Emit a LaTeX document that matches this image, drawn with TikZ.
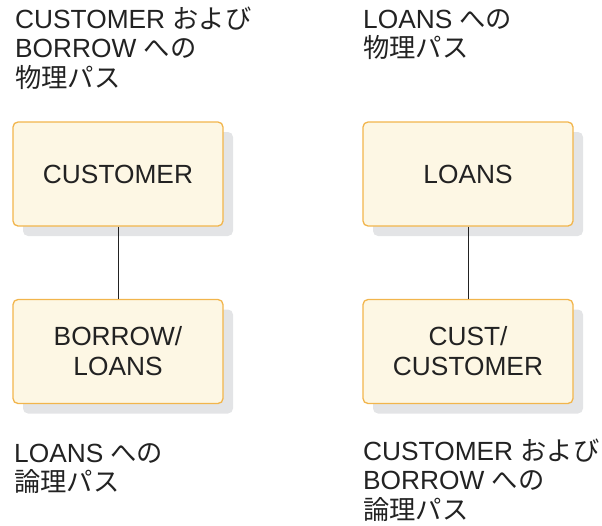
\documentclass[tikz,border=0pt]{standalone}
\usepackage{fontspec}
\setmainfont{Liberation Sans}
\newfontfamily\jp{Noto Sans CJK JP}
\usetikzlibrary{shadows}
\definecolor{boxfill}{HTML}{FDF7E4}
\definecolor{boxline}{HTML}{F2B54C}
\definecolor{shadowgray}{HTML}{E3E4E6}
\definecolor{txt}{HTML}{222222}
\tikzset{
  ent/.style={draw=boxline, fill=boxfill, line width=1.3pt, rounded corners=5pt,
    minimum width=210pt, minimum height=104pt, align=center, inner sep=0pt,
    font=\fontsize{26.3}{30}\selectfont, text=txt,
    drop shadow={shadow xshift=10pt, shadow yshift=-10pt, fill=shadowgray, opacity=1}},
  lbl/.style={anchor=base west, align=left, inner sep=0pt,
    font=\fontsize{26.3}{29.5}\selectfont, text=txt},
  link/.style={draw=txt, line width=1pt}
}
\begin{document}
\begin{tikzpicture}[x=1pt,y=-1pt]
\useasboundingbox (0,0) rectangle (602,525);
\node[ent] (cust) at (118,174) {CUSTOMER};
\node[ent] (borrow) at (118,351.5) {BORROW/\\LOANS};
\node[ent] (loans) at (468,174) {LOANS};
\node[ent] (custc) at (468,351.5) {CUST/\\CUSTOMER};
\draw[link] (cust) -- (borrow);
\draw[link] (loans) -- (custc);
\node[lbl] (t1) at (15,87) {CUSTOMER {\jp および}\\BORROW {\jp への}\\{\jp 物理パス}};
\node[lbl] (t2) at (363,57.5) {LOANS {\jp への}\\{\jp 物理パス}};
\node[lbl] (t3) at (14,491.5) {LOANS {\jp への}\\{\jp 論理パス}};
\node[lbl] (t4) at (363,519) {CUSTOMER {\jp および}\\BORROW {\jp への}\\{\jp 論理パス}};
\end{tikzpicture}
\end{document}
